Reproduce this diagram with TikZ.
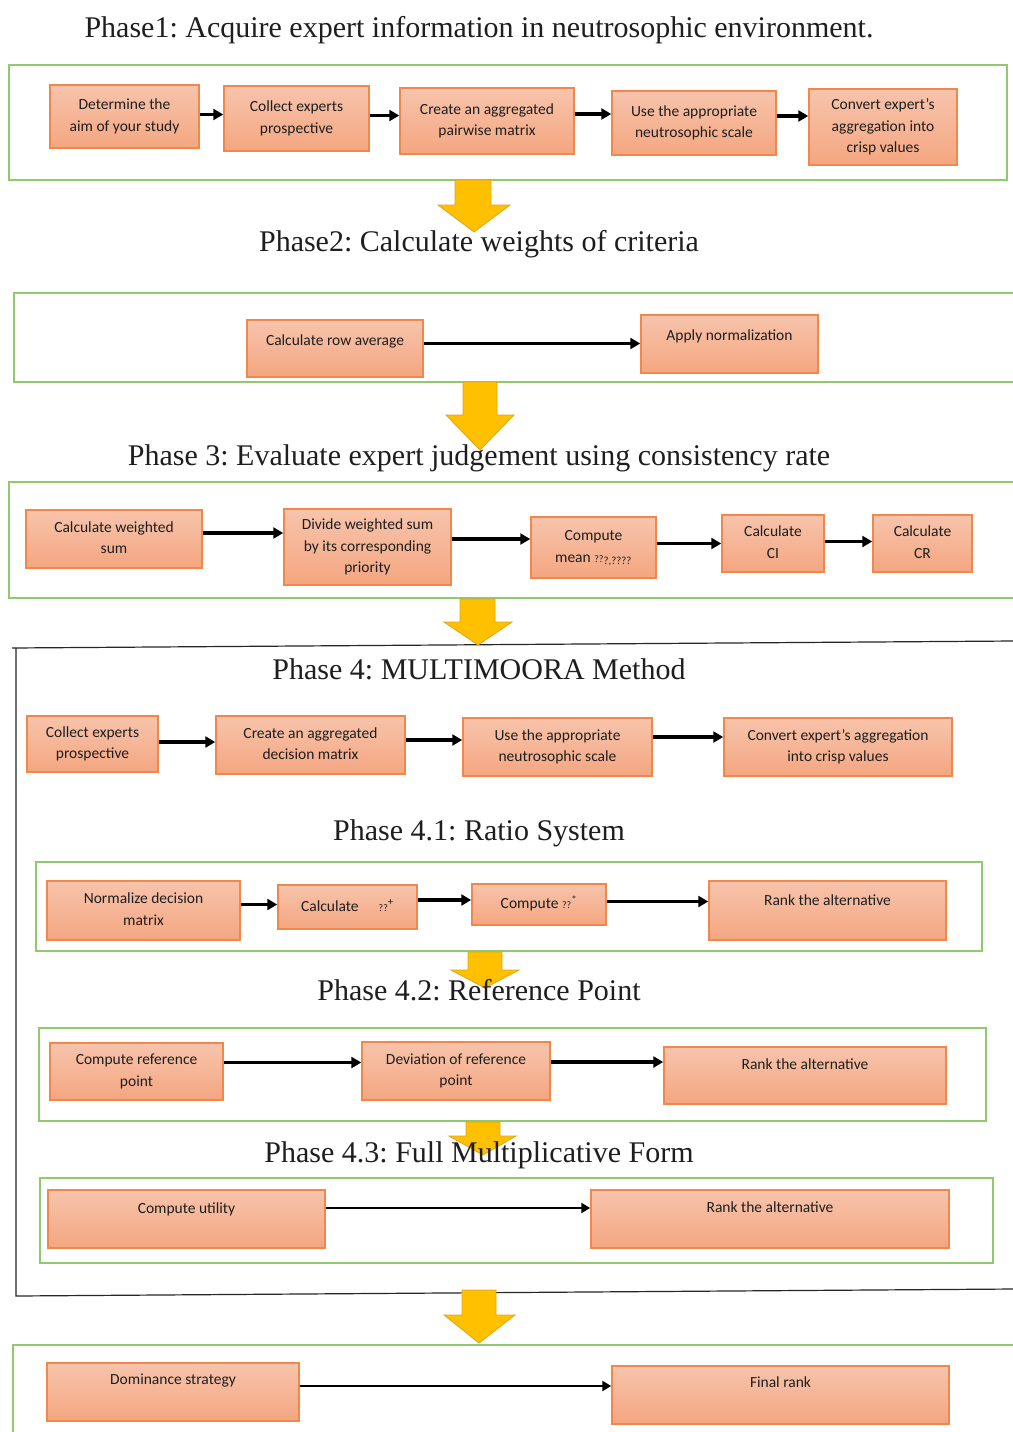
\documentclass[tikz,border=0pt]{standalone}
\usepackage{fontspec}
\setmainfont{Liberation Serif}
\newfontfamily\boxfont{Carlito}
\usetikzlibrary{arrows.meta}
\frenchspacing
\definecolor{boxedge}{RGB}{240,135,75}
\definecolor{boxtop}{RGB}{247,196,172}
\definecolor{boxbot}{RGB}{244,166,128}
\definecolor{frameg}{RGB}{146,200,110}
\definecolor{yel}{RGB}{255,192,0}
\definecolor{yeledge}{RGB}{225,165,20}
\definecolor{txt}{RGB}{30,30,30}
\tikzset{
 stepbox/.style={draw=boxedge, line width=1.5pt, top color=boxtop, bottom color=boxbot,
   inner sep=0pt, font=\boxfont\fontsize{15.5}{21.5}\selectfont, text=txt},
 conn/.style={line width=3.2pt, -{Triangle[length=10pt,width=11pt]}},
 thinconn/.style={line width=2.4pt, -{Triangle[length=9pt,width=10pt]}},
 frame/.style={draw=frameg, line width=1.6pt},
 title/.style={font=\fontsize{30}{34}\selectfont, anchor=base, text=txt, inner sep=0pt},
 blackframe/.style={line width=1.2pt, draw=black!85},
 yarr/.style={fill=yel, draw=yeledge, line width=0.8pt},
}
\newcommand\mybox[7]{%
 \pgfmathsetmacro\bcx{(#2+#4)/2}%
 \pgfmathsetmacro\bcy{(#3+#5)/2}%
 \pgfmathsetmacro\bw{#4-#2}%
 \pgfmathsetmacro\bh{#5-#3}%
 \node[stepbox, minimum width=\bw pt, minimum height=\bh pt] (#1) at (\bcx,\bcy)
   {\raisebox{\dimexpr#6pt-3.5pt\relax}[0pt][0pt]{\begin{tabular}{@{}c@{}}#7\end{tabular}}};}
\newcommand\yarrow[8]{%
 \path[yarr] (#1,#3) -- (#2,#3) -- (#2,#4) -- (#6,#4) -- (#7,#8) -- (#5,#4) -- (#1,#4) -- cycle;}
\newcommand\qq{{\fontsize{10}{10}\selectfont ??}}
\begin{document}
\begin{tikzpicture}[x=1pt,y=-1pt]
\useasboundingbox (0,0) rectangle (1012,1432);
\fill[white] (0,0) rectangle (1012,1432);

% frames
\draw[frame] (9,65) rectangle (1007,180);
\draw[frame] (1014,293) -- (14,293) -- (14,382) -- (1014,382);
\draw[frame] (1014,482) -- (9,482) -- (9,598) -- (1014,598);
\draw[frame] (36,862) rectangle (982,951);
\draw[frame] (39,1028) rectangle (986,1121);
\draw[frame] (40,1178) rectangle (993,1263);
\draw[frame] (1014,1345) -- (13,1345) -- (13,1434);

% black frame of phase 4
\draw[blackframe] (12,648) -- (1014,641);
\draw[blackframe] (16,648) -- (16,1296) -- (1014,1289);

% yellow arrows
\yarrow{455}{491}{180}{205}{438}{510}{474}{232}
\yarrow{463}{497}{382}{415}{446}{514}{480}{450}
\yarrow{460}{495}{599}{622}{444}{512}{478}{645}
\yarrow{468}{502}{952}{970}{451}{519}{485}{988}
\yarrow{466}{500}{1122}{1136}{449}{516}{483}{1155}
\yarrow{462}{496}{1290}{1315}{444}{515}{479}{1343}

% titles
\node[title] (t1) at (479,37) {Phase1: Acquire expert information in neutrosophic environment.};
\node[title] (t2) at (479,251) {Phase2: Calculate weights of criteria};
\node[title] (t3) at (479,465) {Phase 3: Evaluate expert judgement using consistency rate};
\node[title] (t4) at (479,679) {Phase 4: MULTIMOORA Method};
\node[title] (t41) at (479,840) {Phase 4.1: Ratio System};
\node[title] (t42) at (479,1000) {Phase 4.2: Reference Point};
\node[title] (t43) at (479,1162) {Phase 4.3: Full Multiplicative Form};

% phase 1
\mybox{b11}{50}{85}{199}{148}{0}{Determine the\\aim of your study}
\mybox{b12}{224}{86}{369}{151}{0}{Collect experts\\prospective}
\mybox{b13}{400}{88}{574}{154}{0}{Create an aggregated\\pairwise matrix}
\mybox{b14}{612}{91}{776}{155}{0}{Use the appropriate\\neutrosophic scale}
\mybox{b15}{809}{89}{957}{165}{0}{Convert expert’s\\aggregation into\\crisp values}
\draw[conn] ([yshift=2pt]b11.east) -- ([yshift=2pt]b11.east -| b12.west);
\draw[conn] ([yshift=3pt]b12.east) -- ([yshift=3pt]b12.east -| b13.west);
\draw[conn] ([yshift=7pt]b13.east) -- ([yshift=7pt]b13.east -| b14.west);
\draw[conn] ([yshift=7pt]b14.east) -- ([yshift=7pt]b14.east -| b15.west);

% phase 2
\mybox{b21}{247}{320}{423}{377}{7}{Calculate row average}
\mybox{b22}{641}{315}{818}{373}{8}{Apply normalization}
\draw[conn] ([yshift=5pt]b21.east) -- ([yshift=5pt]b21.east -| b22.west);

% phase 3
\mybox{b31}{26}{510}{202}{568}{0}{Calculate weighted\\sum}
\mybox{b32}{284}{509}{451}{585}{0}{Divide weighted sum\\by its corresponding\\priority}
\mybox{b33}{531}{517}{656}{578}{0}{Compute\\mean \qq\textsubscript{?,????}}
\mybox{b34}{722}{515}{824}{572}{0}{Calculate\\CI}
\mybox{b35}{873}{515}{972}{572}{0}{Calculate\\CR}
\draw[conn] ([yshift=6pt]b31.east) -- ([yshift=6pt]b31.east -| b32.west);
\draw[conn] ([yshift=8pt]b32.east) -- ([yshift=8pt]b32.east -| b33.west);
\draw[conn] ([yshift=4pt]b33.east) -- ([yshift=4pt]b33.east -| b34.west);
\draw[conn] ([yshift=2pt]b34.east) -- ([yshift=2pt]b34.east -| b35.west);

% phase 4
\mybox{b41}{27}{716}{158}{772}{0}{Collect experts\\prospective}
\mybox{b42}{216}{716}{405}{774}{0}{Create an aggregated\\decision matrix}
\mybox{b43}{463}{718}{652}{776}{0}{Use the appropriate\\neutrosophic scale}
\mybox{b44}{724}{718}{952}{776}{0}{Convert expert’s aggregation\\into crisp values}
\draw[conn] ([yshift=2pt]b41.east) -- ([yshift=2pt]b41.east -| b42.west);
\draw[conn] ([yshift=5pt]b42.east) -- ([yshift=5pt]b42.east -| b43.west);
\draw[conn] ([yshift=10pt]b43.east) -- ([yshift=10pt]b43.east -| b44.west);

% phase 4.1
\mybox{b51}{47}{881}{240}{940}{0}{Normalize decision\\matrix}
\mybox{b52}{278}{885}{417}{929}{0}{Calculate\hspace{20pt}\qq\textsuperscript{+}}
\mybox{b53}{472}{884}{606}{925}{0}{Compute \qq\textsuperscript{*}}
\mybox{b54}{709}{881}{946}{940}{9}{Rank the alternative}
\draw[conn] ([yshift=6pt]b51.east) -- ([yshift=6pt]b51.east -| b52.west);
\draw[conn] ([yshift=7pt]b52.east) -- ([yshift=7pt]b52.east -| b53.west);
\draw[conn] ([yshift=3pt]b53.east) -- ([yshift=3pt]b53.east -| b54.west);

% phase 4.2
\mybox{b61}{50}{1043}{223}{1100}{0}{Compute reference\\point}
\mybox{b62}{362}{1042}{550}{1100}{0}{Deviation of reference\\point}
\mybox{b63}{664}{1047}{946}{1104}{10}{Rank the alternative}
\draw[conn] ([yshift=9pt]b61.east) -- ([yshift=9pt]b61.east -| b62.west);
\draw[conn] ([yshift=9pt]b62.east) -- ([yshift=9pt]b62.east -| b63.west);

% phase 4.3
\mybox{b71}{48}{1190}{325}{1248}{10}{Compute utility}
\mybox{b72}{591}{1190}{949}{1248}{11}{Rank the alternative}
\draw[thinconn] ([yshift=11pt]b71.east) -- ([yshift=11pt]b71.east -| b72.west);

% final
\mybox{b81}{47}{1363}{299}{1421}{12}{Dominance strategy}
\mybox{b82}{612}{1366}{949}{1424}{12}{Final rank}
\draw[thinconn] ([yshift=6pt]b81.east) -- ([yshift=6pt]b81.east -| b82.west);
\end{tikzpicture}
\end{document}
